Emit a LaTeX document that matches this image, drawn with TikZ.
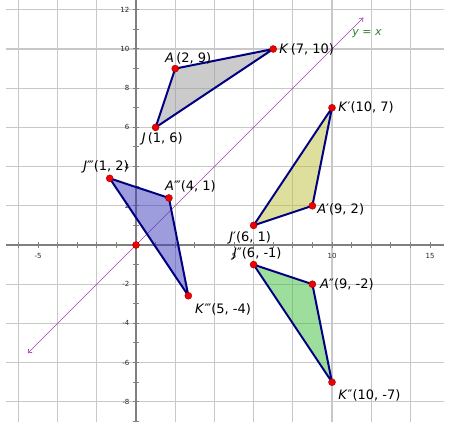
\documentclass[tikz,border=0pt]{standalone}
\usepackage{fontspec}
\setmainfont{DejaVu Sans}
\usetikzlibrary{arrows.meta,calc}
\definecolor{gridc}{RGB}{200,200,200}
\definecolor{axisc}{RGB}{128,128,128}
\definecolor{edgec}{RGB}{0,0,128}
\definecolor{linec}{RGB}{160,70,176}
\definecolor{eqc}{RGB}{40,130,40}
\definecolor{grayf}{RGB}{153,153,153}
\definecolor{yellowf}{RGB}{190,190,60}
\definecolor{greenf}{RGB}{60,190,60}
\definecolor{bluef}{RGB}{60,60,190}
\definecolor{dotc}{RGB}{240,0,0}
\begin{document}
\begin{tikzpicture}[x=19.6pt,y=19.6pt,
  gridline/.style={draw=gridc,line width=1.2pt},
  axisline/.style={draw=axisc,line width=1.6pt},
  tickmark/.style={draw=axisc,line width=1pt},
  ticklbl/.style={text=black!85,font=\fontsize{7}{8}\selectfont,inner sep=0pt},
  tri/.style={draw=edgec,line width=2pt,line join=round,fill opacity=0.5},
  dot/.style={circle,fill=dotc,draw=red!60!black,line width=0.4pt,minimum size=7pt,inner sep=0pt},
  ptlbl/.style={font=\fontsize{13}{14}\selectfont,inner sep=0pt,anchor=west},
  eqline/.style={draw=linec,line width=0.7pt,{Straight Barb[length=3pt,width=5pt]}-{Straight Barb[length=3pt,width=5pt]}},
  eqlbl/.style={text=eqc,font=\fontsize{11}{12}\selectfont,inner sep=0pt}]
\useasboundingbox (-6.939,-9.031) rectangle (16.020,12.5);
\fill[white] (-6.939,-9.031) rectangle (16.020,12.5);
% grid
\foreach \x in {-6,-4,...,14} \draw[gridline] (\x,-9.031) -- (\x,12.5);
\foreach \y in {-8,-6,...,12} \draw[gridline] (-6.633,\y) -- (15.714,\y);
% axes
\draw[axisline] (-6.633,0) -- (15.714,0);
\draw[axisline] (0,-9.031) -- (0,12.5);
\foreach \x in {-6,...,15} \draw[tickmark] (\x,0) ++(0,-3pt) -- ++(0,6pt);
\foreach \y in {-9,...,12} \draw[tickmark] (0,\y) ++(-3pt,0) -- ++(6pt,0);
\foreach \x in {-5,5,10,15} \node[ticklbl] (tx\x) at (\x,-0.58) {\x};
\foreach \y in {-8,-6,-4,-2,2,4,6,8,10,12} \node[ticklbl,anchor=east] (ty\y) at (-0.33,\y) {\y};
% line y = x
\coordinate (L1) at (-5.52,-5.52);
\coordinate (L2) at (11.6,11.6);
\draw[eqline] (L1) -- (L2);
\node[eqlbl] (eq) at (11.79,10.77) {\textit{y} = \textit{x}};
% points
\coordinate (J) at (1,6);
\coordinate (A) at (2,9);
\coordinate (K) at (7,10);
\coordinate (Jp) at (6,1);
\coordinate (Ap) at (9,2);
\coordinate (Kp) at (10,7);
\coordinate (Jpp) at (6,-1);
\coordinate (App) at (9,-2);
\coordinate (Kpp) at (10,-7);
\coordinate (Jppp) at (-1.34,3.40);
\coordinate (Appp) at (1.68,2.40);
\coordinate (Kppp) at (2.67,-2.59);
\coordinate (O) at (0,0);
% triangles
\filldraw[tri,fill=grayf] (J) -- (A) -- (K) -- cycle;
\filldraw[tri,fill=yellowf] (Jp) -- (Kp) -- (Ap) -- cycle;
\filldraw[tri,fill=greenf] (Jpp) -- (App) -- (Kpp) -- cycle;
\filldraw[tri,fill=bluef] (Jppp) -- (Appp) -- (Kppp) -- cycle;
% dots
\foreach \p in {J,A,K,Jp,Ap,Kp,Jpp,App,Kpp,Jppp,Appp,Kppp,O} \node[dot] (d\p) at (\p) {};
% labels
\node[ptlbl] (lA) at (1.48,9.54) {\textit{A}\,(2, 9)};
\node[ptlbl] (lK) at (7.30,10.0) {\textit{K}\,(7, 10)};
\node[ptlbl] (lJ) at (0.29,5.44) {\textit{J}\,(1, 6)};
\node[ptlbl] (lKp) at (10.31,7.03) {\textit{K}′(10, 7)};
\node[ptlbl] (lAp) at (9.24,1.79) {\textit{A}′(9, 2)};
\node[ptlbl] (lJp) at (4.75,0.36) {\textit{J}′(6, 1)};
\node[ptlbl] (lJpp) at (4.95,-0.46) {\textit{J}″(6, -1)};
\node[ptlbl] (lApp) at (9.39,-1.99) {\textit{A}″(9, -2)};
\node[ptlbl] (lKpp) at (10.31,-7.70) {\textit{K}″(10, -7)};
\node[ptlbl] (lJppp) at (-2.70,4.0) {\textit{J}‴(1, 2)};
\node[ptlbl] (lAppp) at (1.48,2.97) {\textit{A}‴(4, 1)};
\node[ptlbl] (lKppp) at (3.01,-3.28) {\textit{K}‴(5, -4)};
\end{tikzpicture}
\end{document}
